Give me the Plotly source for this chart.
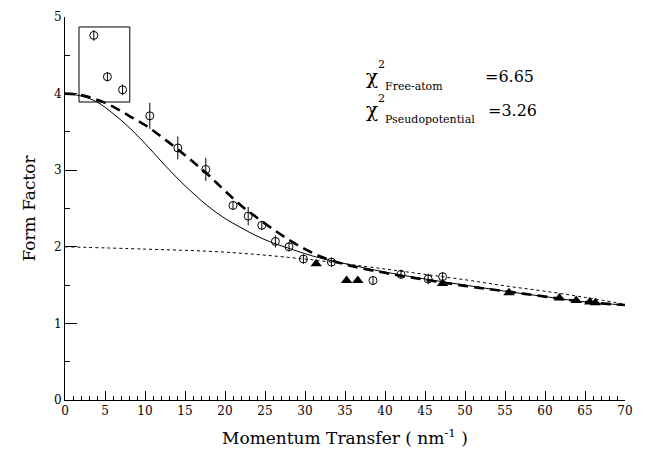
import plotly.graph_objects as go

# ---- data ----
curve_x = [0, 2, 4, 6, 8, 10, 12, 14, 16, 18, 20, 22, 24, 26, 28, 30, 32, 35, 40, 45, 50, 55, 60, 65, 70]
free_atom_y = [4.0, 3.97, 3.89, 3.74, 3.56, 3.35, 3.12, 2.90, 2.70, 2.52, 2.37, 2.25, 2.14, 2.05, 1.98,
               1.91, 1.85, 1.78, 1.67, 1.58, 1.50, 1.42, 1.35, 1.28, 1.24]
pseudo_y = [4.0, 3.98, 3.92, 3.83, 3.71, 3.59, 3.44, 3.28, 3.11, 2.93, 2.73, 2.54, 2.38, 2.23, 2.09,
            1.97, 1.87, 1.77, 1.66, 1.57, 1.49, 1.42, 1.35, 1.28, 1.24]
core_x = [0, 10, 20, 30, 40, 45, 50, 55, 60, 65, 70]
core_y = [2.0, 1.97, 1.93, 1.84, 1.71, 1.64, 1.57, 1.49, 1.42, 1.34, 1.25]

circ_x = [3.6, 5.3, 7.2, 10.6, 14.1, 17.6, 21.0, 22.9, 24.6, 26.3, 28.0, 29.8, 33.3, 38.5, 42.0, 45.4, 47.2]
circ_y = [4.76, 4.22, 4.05, 3.71, 3.29, 3.01, 2.54, 2.40, 2.28, 2.07, 2.00, 1.84, 1.80, 1.56, 1.64, 1.58, 1.61]
circ_err = [0.07, 0.06, 0.07, 0.17, 0.15, 0.15, 0.06, 0.12, 0.06, 0.08, 0.06, 0.06, 0.06, 0.06, 0.06, 0.07, 0.06]

tri_x = [31.4, 35.2, 36.6, 47.2, 55.5, 61.8, 63.9, 65.6, 66.3]
tri_y = [1.78, 1.56, 1.56, 1.52, 1.40, 1.33, 1.30, 1.28, 1.27]

box_x = [1.75, 8.1]
box_y = [3.89, 4.87]

x_ticks = list(range(0, 75, 5))
y_ticks = [0, 1, 2, 3, 4, 5]

SERIF = "DejaVu Serif"

fig = go.Figure()
fig.add_trace(go.Scatter(x=core_x, y=core_y, mode="lines", line=dict(color="black", width=1, dash="dot", shape="spline")))
fig.add_trace(go.Scatter(x=curve_x, y=free_atom_y, mode="lines", line=dict(color="black", width=1, shape="spline")))
fig.add_trace(go.Scatter(x=curve_x, y=pseudo_y, mode="lines", line=dict(color="black", width=2.6, dash="10px,6px", shape="spline")))
fig.add_trace(go.Scatter(x=circ_x, y=circ_y, mode="markers",
                         marker=dict(symbol="circle-open", size=8, color="black", line=dict(width=1)),
                         error_y=dict(type="data", array=circ_err, visible=True, color="black", thickness=1, width=0)))
fig.add_trace(go.Scatter(x=tri_x, y=tri_y, mode="markers",
                         marker=dict(symbol="triangle-up", size=10, color="black")))

fig.add_shape(type="rect", x0=box_x[0], x1=box_x[1], y0=box_y[0], y1=box_y[1],
              line=dict(color="black", width=1), xref="x", yref="y")

# (left x px, center y px, text, size)
ann = [
    (349, 72, "χ", 20),
    (363, 57, "2", 11),
    (371, 83, "Free-atom", 11),
    (488, 72, "=6.65", 16),
    (349, 112, "χ", 20),
    (363, 98, "2", 11),
    (371, 123, "Pseudopotential", 11),
    (491, 112, "=3.26", 16),
]
for px, py, txt, sz in ann:
    fig.add_annotation(x=px / 652, y=1 - py / 460, xref="paper", yref="paper",
                       text=txt, showarrow=False, xanchor="left", yanchor="middle", borderpad=0,
                       font=dict(family=SERIF, size=sz, color="black"))

fig.update_layout(
    width=652, height=460,
    margin=dict(l=65, r=27, t=10, b=60),
    paper_bgcolor="white", plot_bgcolor="white",
    showlegend=False,
    font=dict(family=SERIF, color="black"),
    xaxis=dict(range=[0, 70], tickvals=x_ticks, ticks="inside", ticklen=9, tickwidth=1, tickcolor="black",
               minor=dict(dtick=1, ticks="inside", ticklen=4, tickcolor="black", tickwidth=1),
               showline=True, linecolor="black", linewidth=1, showgrid=False, zeroline=False,
               tickfont=dict(family=SERIF, size=12),
               title=dict(text="Momentum Transfer ( nm<sup>-1</sup> )", font=dict(family=SERIF, size=17), standoff=14)),
    yaxis=dict(range=[0, 5], tickvals=y_ticks, ticks="inside", ticklen=12, tickwidth=1, tickcolor="black",
               minor=dict(dtick=0.5, ticks="inside", ticklen=5, tickcolor="black", tickwidth=1),
               showline=True, linecolor="black", linewidth=1, showgrid=False, zeroline=False,
               tickfont=dict(family=SERIF, size=12),
               title=dict(text="Form Factor", font=dict(family=SERIF, size=17), standoff=14)),
)

fig.write_html("out.html")
